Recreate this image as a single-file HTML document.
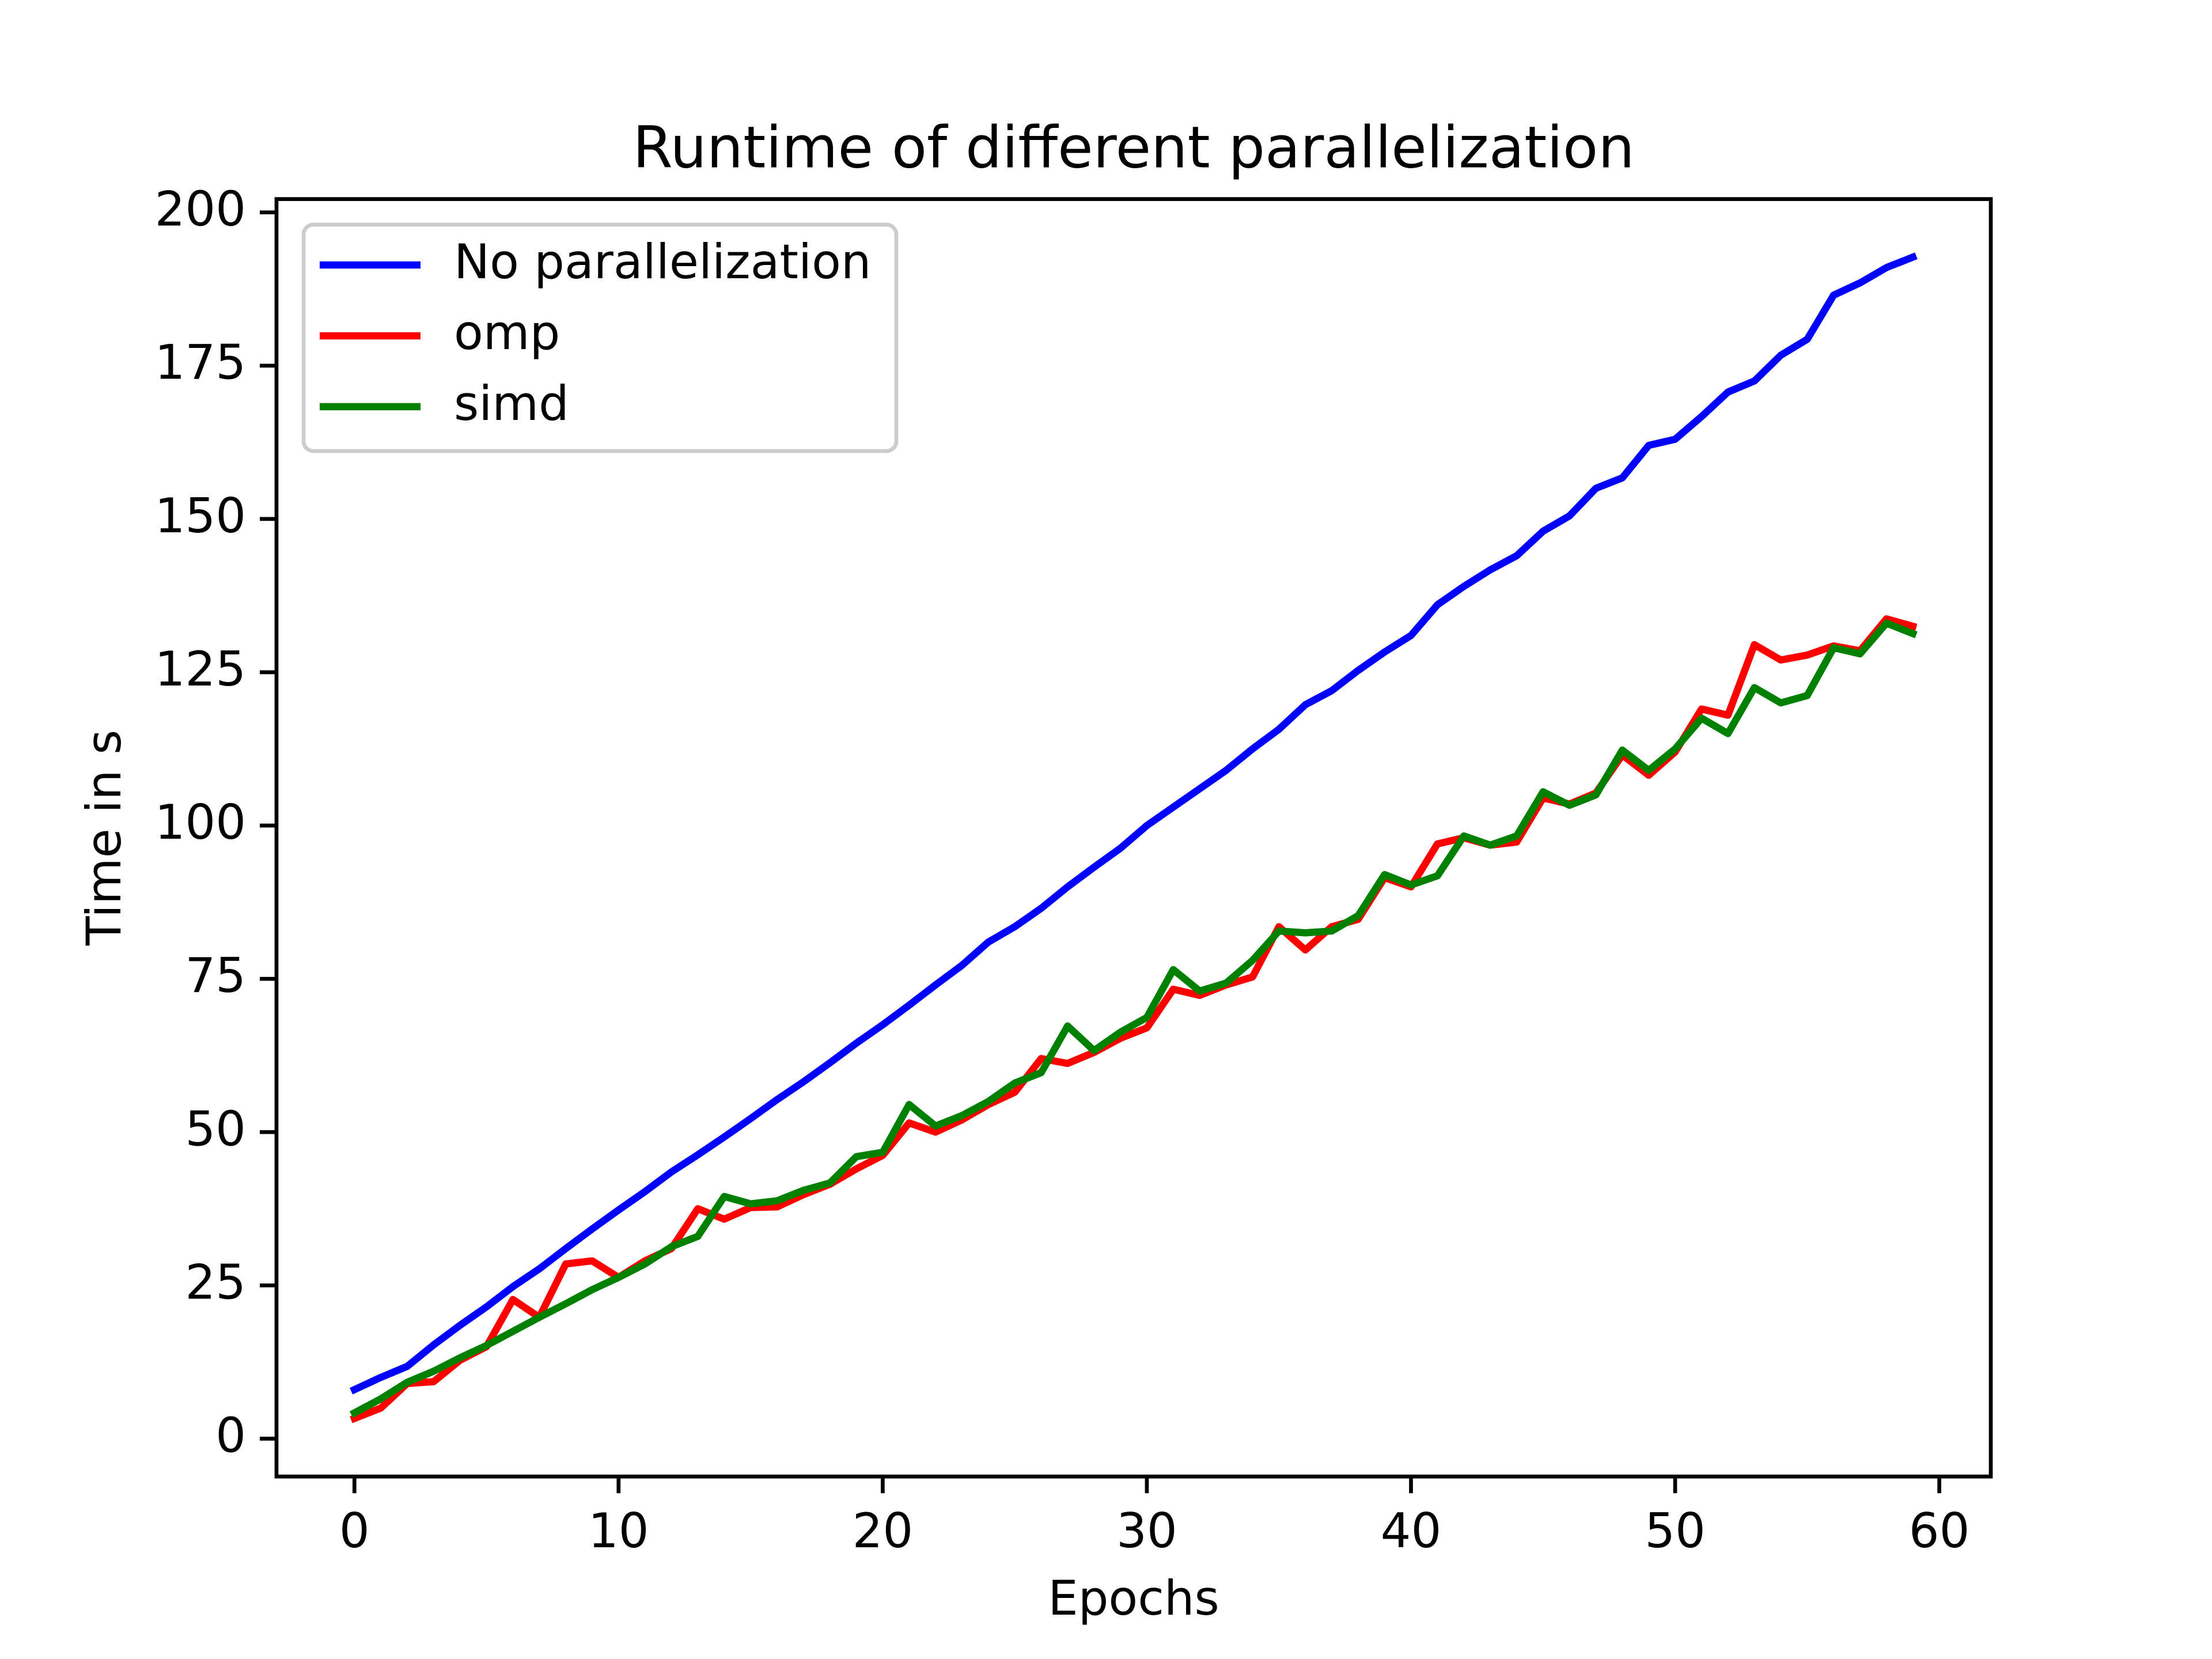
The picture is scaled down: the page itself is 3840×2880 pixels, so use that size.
<!DOCTYPE html>
<html><head><meta charset="utf-8"><style>html,body{margin:0;padding:0;background:#fff}svg{display:block;font-family:"DejaVu Sans","Liberation Sans",sans-serif}</style></head>
<body>
<svg id="chart" width="3840" height="2880" viewBox="0 0 3840 2880" xmlns="http://www.w3.org/2000/svg">
<rect width="3840" height="2880" fill="#fff"/>
<text x="1968" y="263" font-size="100" text-anchor="middle" dominant-baseline="middle">Runtime of different parallelization</text>
<text x="1968" y="2780" font-size="83" text-anchor="middle" dominant-baseline="middle">Epochs</text>
<text x="186" y="1454" font-size="83" text-anchor="middle" dominant-baseline="middle" transform="rotate(-90 186 1454)">Time in s</text>
<g id="plot"></g>
</svg>
<script>
const xTicks=[0,10,20,30,40,50,60];
const yTicks=[0,25,50,75,100,125,150,175,200];
const noPar=[8,10,11.8,15.3,18.5,21.5,24.8,27.7,31,34.2,37.3,40.3,43.5,46.3,49.2,52.2,55.3,58.2,61.3,64.5,67.5,70.7,74,77.2,81,83.5,86.5,90,93.2,96.3,100,103,106,109,112.5,115.7,119.7,122,125.3,128.3,131,136,139,141.7,144,148,150.5,155,156.7,162,163,166.7,170.7,172.5,176.7,179.3,186.5,188.5,191,192.7];
const omp=[3.3,5,9,9.3,12.8,15,22.7,19.8,28.5,29,26.3,29,31,37.5,35.8,37.7,37.8,39.8,41.5,44,46.2,51.5,50,52,54.5,56.5,62,61.2,63,65.3,67,73.3,72.3,74,75.3,83.5,79.7,83.5,84.7,91.5,90,97,98,96.8,97.3,104.5,103.5,105.3,111.5,108.2,112,119,118,129.5,127,127.8,129.3,128.5,133.7,132.5];
const simd=[4.2,6.5,9.2,11,13.2,15.2,17.5,19.8,22,24.3,26.3,28.5,31.3,33,39.5,38.3,38.8,40.5,41.7,46,46.7,54.5,51,52.7,55,58,59.7,67.3,63.3,66.3,68.7,76.5,73,74.3,78,82.8,82.5,82.8,85.3,92,90.3,91.8,98.3,96.8,98.3,105.5,103.3,105,112.3,109,112.5,117.5,115,122.5,120,121.2,129,128,133,131.3];
const seriesNames=["No parallelization","omp","simd"];
const L=480,R=3456,T=345.6,B=2563.2;
const n=noPar.length;
const all=noPar.concat(omp,simd);
const ymin=Math.min(...all),ymax=Math.max(...all);
const yLo=ymin-0.05*(ymax-ymin),yHi=ymax+0.05*(ymax-ymin);
const xLo=-0.05*(n-1),xHi=(n-1)*1.05;
const sx=v=>L+(v-xLo)/(xHi-xLo)*(R-L);
const sy=v=>B-(v-yLo)/(yHi-yLo)*(B-T);
const NS="http://www.w3.org/2000/svg";
const g=document.getElementById('plot');
function mk(t,a){const e=document.createElementNS(NS,t);for(const k in a)e.setAttribute(k,a[k]);g.appendChild(e);return e;}
function line(data,color,name){
  const p=mk('polyline',{points:data.map((v,i)=>sx(i)+','+sy(v)).join(' '),fill:'none',stroke:color,'stroke-width':12.5,'stroke-linejoin':'round','stroke-linecap':'square'});
  
  
}
line(noPar,'#0000ff','series-no-parallelization');
line(omp,'#ff0000','series-omp');
line(simd,'#008000','series-simd');
const frame=mk('rect',{x:L,y:T,width:R-L,height:B-T,fill:'none',stroke:'#000','stroke-width':6.7});


xTicks.forEach(v=>{
  const x=sx(v);
  const t=mk('line',{x1:x,x2:x,y1:B,y2:B+29,stroke:'#000','stroke-width':6.7});
  
  
  const l=mk('text',{x:x,y:2663,'font-size':83,'text-anchor':'middle','dominant-baseline':'middle'});
  l.textContent=v;
  
  
});
yTicks.forEach(v=>{
  const y=sy(v);
  const t=mk('line',{x1:L-29,x2:L,y1:y,y2:y,stroke:'#000','stroke-width':6.7});
  
  
  const l=mk('text',{x:427,y:y,'font-size':83,'text-anchor':'end','dominant-baseline':'middle'});
  l.textContent=v;
  
  
});
const lg=mk('rect',{x:527,y:390,width:1029,height:393,rx:17,fill:'#fff','fill-opacity':0.8,stroke:'#cccccc','stroke-width':6.7});


const cols=['#0000ff','#ff0000','#008000'];
seriesNames.forEach((s,i)=>{
  const y=460+i*123;
  const ln=mk('line',{x1:555,x2:730,y1:y,y2:y,stroke:cols[i],'stroke-width':12.5});
  
  
  const tx=mk('text',{x:788,y:y,'font-size':83,'dominant-baseline':'middle'});
  tx.textContent=s;
  
  
});
</script>
</body></html>
